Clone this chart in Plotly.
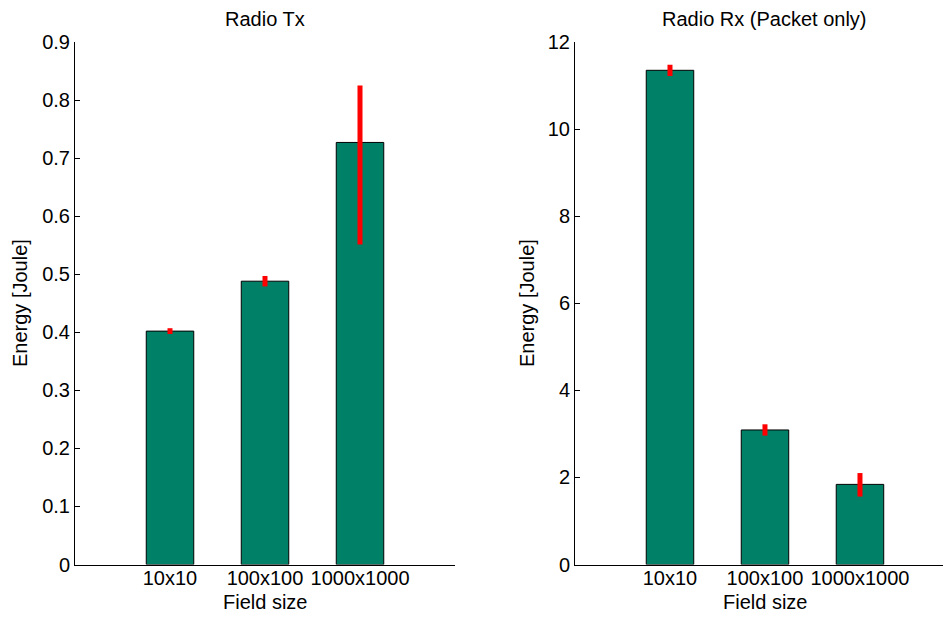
import plotly.graph_objects as go

# Field sizes on the x axis
categories = ["10x10", "100x100", "1000x1000"]

# Radio transmit energy [Joule] with asymmetric spread
tx_energy = [0.402, 0.488, 0.727]
tx_err_plus = [0.005, 0.009, 0.098]
tx_err_minus = [0.005, 0.009, 0.176]

# Radio receive energy (packet only) [Joule]
rx_energy = [11.35, 3.09, 1.84]
rx_err_plus = [0.13, 0.13, 0.26]
rx_err_minus = [0.13, 0.13, 0.28]

tx_ticks = [0, 0.1, 0.2, 0.3, 0.4, 0.5, 0.6, 0.7, 0.8, 0.9]
rx_ticks = [0, 2, 4, 6, 8, 10, 12]

W, H = 943, 619
FONT = "Liberation Sans, Arial, Helvetica, sans-serif"
FS = 20
BAR = "rgb(0,128,102)"

fig = go.Figure()

fig.add_trace(go.Bar(
    x=categories, y=tx_energy, width=0.5,
    marker=dict(color=BAR, line=dict(color="black", width=1)),
    error_y=dict(type="data", symmetric=False, array=tx_err_plus,
                 arrayminus=tx_err_minus, color="red", thickness=5, width=0),
    xaxis="x", yaxis="y", showlegend=False,
))
fig.add_trace(go.Bar(
    x=categories, y=rx_energy, width=0.5,
    marker=dict(color=BAR, line=dict(color="black", width=1)),
    error_y=dict(type="data", symmetric=False, array=rx_err_plus,
                 arrayminus=rx_err_minus, color="red", thickness=5, width=0),
    xaxis="x2", yaxis="y2", showlegend=False,
))

def px_x(v):
    return v / W

def px_y(v):
    return 1 - v / H

ydom = [px_y(564.5), px_y(42)]

xcommon = dict(showline=True, linecolor="black", linewidth=1, ticks="",
               showgrid=False, zeroline=False, type="category", automargin=False,
               ticklabelstandoff=-5,
               tickfont=dict(family=FONT, size=FS, color="black"))
ycommon = dict(showline=True, linecolor="black", linewidth=1, ticks="inside",
               ticklen=5, tickcolor="black", showgrid=False, zeroline=False,
               automargin=False,
               tickfont=dict(family=FONT, size=FS, color="black"))

fig.update_layout(
    width=W, height=H,
    margin=dict(l=0, r=0, t=0, b=0),
    paper_bgcolor="white", plot_bgcolor="white",
    font=dict(family=FONT, size=FS, color="black"),
    bargap=0.5,
    xaxis=dict(xcommon, domain=[px_x(75), px_x(455)], range=[-1, 3], anchor="y"),
    yaxis=dict(ycommon, domain=ydom, range=[0, 0.9], tickvals=tx_ticks,
               ticktext=[f"{t:g}" for t in tx_ticks], anchor="x"),
    xaxis2=dict(xcommon, domain=[px_x(575), 1.0], range=[-1, 2.874], anchor="y2"),
    yaxis2=dict(ycommon, domain=ydom, range=[0, 12], tickvals=rx_ticks,
                ticktext=[str(t) for t in rx_ticks], anchor="x2"),
)

ann = []
for xr, title, ylab_x in (("x", "Radio Tx", 20), ("x2", "Radio Rx (Packet only)", 527)):
    ann.append(dict(text=title, x=1, xref=xr, y=px_y(19), yref="paper",
                    showarrow=False, xanchor="center", yanchor="middle",
                    font=dict(family=FONT, size=FS)))
    ann.append(dict(text="Field size", x=1, xref=xr, y=px_y(602), yref="paper",
                    showarrow=False, xanchor="center", yanchor="middle",
                    font=dict(family=FONT, size=FS)))
    ann.append(dict(text="Energy [Joule]", x=px_x(ylab_x), xref="paper",
                    y=px_y(303), yref="paper", textangle=-90, showarrow=False,
                    xanchor="center", yanchor="middle",
                    font=dict(family=FONT, size=FS)))
fig.update_layout(annotations=ann)

fig.write_html("out.html")
